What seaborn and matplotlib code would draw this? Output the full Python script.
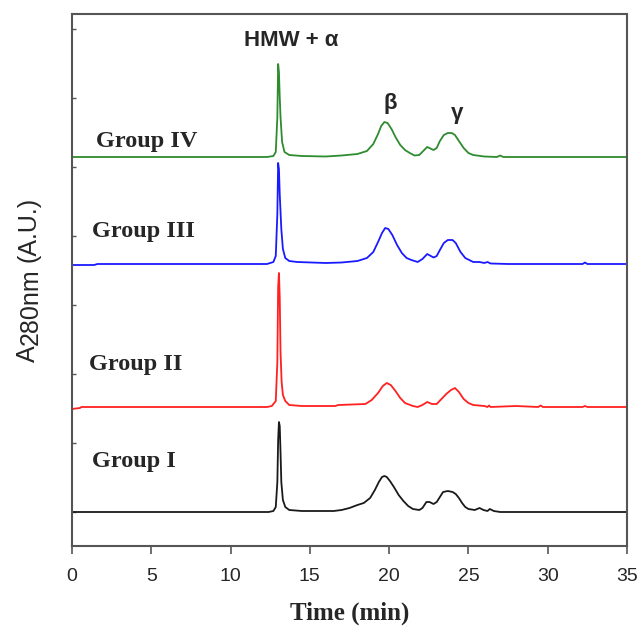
import matplotlib.pyplot as plt
import seaborn as sns
import pandas as pd

# Chromatogram traces (time in min, absorbance in a.u. above each baseline)
time_I = [0, 12.4, 12.7, 12.85, 12.95, 13.0, 13.05, 13.1, 13.15, 13.2, 13.3, 13.45, 13.7, 14.5,
          16.5, 17.0, 17.5, 18.0, 18.4, 18.8, 19.1, 19.35, 19.55, 19.7, 19.85, 20.05, 20.3,
          20.6, 20.9, 21.2, 21.5, 21.9, 22.1, 22.35, 22.55, 22.8, 23.0, 23.2, 23.4, 23.7,
          24.0, 24.2, 24.4, 24.6, 24.8, 25.0, 25.4, 25.7, 25.95, 26.2, 26.35, 26.6, 27.0, 35]
sig_I = [0, 0, 1, 5, 30, 72, 90, 86, 60, 30, 12, 5, 2, 1,
         1, 2, 4, 7, 9, 14, 22, 30, 35, 36, 35, 31, 25,
         17, 11, 6, 3, 2, 4, 10, 10, 8, 10, 15, 20, 21,
         20, 18, 14, 9, 5, 3, 2, 4, 2, 1, 3, 1, 0, 0]

time_II = [0, 0.5, 0.6, 12.3, 12.6, 12.85, 12.95, 13.0, 13.05, 13.1, 13.15, 13.22, 13.3, 13.45,
           13.7, 14.5, 16.6, 16.8, 18.5, 18.9, 19.3, 19.6, 19.85, 20.1, 20.4, 20.7, 21.0,
           21.5, 21.8, 22.1, 22.4, 22.7, 23.0, 23.3, 23.6, 23.9, 24.15, 24.4, 24.7, 25.0,
           25.3, 26.0, 26.2, 26.3, 26.4, 28.0, 29.4, 29.55, 29.7, 32.2, 32.35, 32.5, 35]
sig_II = [-2, -1, 0, 0, 1, 6, 45, 120, 134, 110, 55, 25, 12, 6,
          2, 1, 1, 2, 3, 7, 14, 21, 24, 22, 16, 9, 4,
          1, 0, 2, 5, 3, 3, 8, 13, 17, 19, 15, 8, 4,
          2, 1, 0, 1.5, 0, 1, 0, 1.5, 0, 0, 1, 0, 0]

time_III = [0, 1.4, 1.6, 12.3, 12.7, 12.85, 12.95, 13.0, 13.05, 13.1, 13.2, 13.3, 13.45, 13.7,
            14.2, 16.0, 17.0, 18.0, 18.6, 19.0, 19.3, 19.55, 19.75, 19.95, 20.2, 20.5, 20.8,
            21.1, 21.4, 21.8, 22.1, 22.4, 22.8, 23.0, 23.2, 23.45, 23.7, 24.0, 24.2, 24.5,
            24.8, 25.3, 25.7, 26.0, 26.2, 26.4, 27.5, 32.2, 32.35, 32.5, 35]
sig_III = [-1, -1, 0, 0, 2, 8, 50, 101, 95, 70, 35, 15, 6, 3,
           2, 1, 1.5, 3, 6, 12, 22, 31, 36, 35, 29, 19, 11,
           6, 4, 2, 5, 10, 6.5, 8, 14, 21, 24, 24, 21, 12,
           6, 2, 2, 1, 2, 0.5, 0, 0, 1.5, 0, 0]

time_IV = [0, 12.3, 12.7, 12.85, 12.95, 13.0, 13.05, 13.1, 13.15, 13.25, 13.4, 13.7, 14.5,
           16.0, 17.0, 18.0, 18.6, 19.0, 19.3, 19.5, 19.7, 19.9, 20.15, 20.4, 20.7, 21.0,
           21.3, 21.6, 21.9, 22.15, 22.4, 22.8, 23.0, 23.2, 23.45, 23.7, 23.95, 24.15, 24.4,
           24.7, 25.0, 25.3, 26.0, 26.8, 27.0, 27.2, 35]
sig_IV = [0, 0, 1, 5, 40, 93, 85, 60, 40, 15, 5, 2, 1,
          0.5, 1.5, 3, 6, 13, 23, 31, 35, 34, 28, 20, 12, 7,
          4, 1.5, 2, 6, 10, 7, 9, 16, 22, 24, 24, 22, 16,
          9, 4, 2, 0.5, 0, 1.5, 0, 0]

groups = ["Group I", "Group II", "Group III", "Group IV"]
offsets = [0, 105, 248, 355]
colors = ["#1a1a1a", "#ff2020", "#1a1aff", "#2e8b2e"]

frames = []
for g, t, s, off in zip(groups, [time_I, time_II, time_III, time_IV],
                        [sig_I, sig_II, sig_III, sig_IV], offsets):
    frames.append(pd.DataFrame({"time": t, "signal": [v + off for v in s], "group": g}))
df = pd.concat(frames, ignore_index=True)

sns.set_style("ticks")
plt.rcParams["font.family"] = ["Liberation Sans", "DejaVu Sans"]

fig = plt.figure(figsize=(6.39, 6.28), dpi=100)
ax = fig.add_axes([72 / 639, 82 / 628, 555 / 639, 532 / 628])

sns.lineplot(data=df, x="time", y="signal", hue="group", palette=colors,
             estimator=None, sort=False, legend=False, linewidth=1.3, ax=ax)

ax.set_xlim(0, 35)
ax.set_ylim(-34, 498)
ax.set_xticks(range(0, 36, 5))
ax.set_yticks(range(0, 498, 69))
ax.set_yticklabels([])
ax.set_ylabel("")
ax.set_xlabel("Time (min)", fontsize=18, fontweight="bold", family="Liberation Serif", labelpad=12)
ax.tick_params(axis="x", direction="out", length=6, width=1.2, color="#555555", labelsize=14, pad=10)
ax.tick_params(axis="y", direction="in", length=3, width=1, color="#555555")
for sp in ax.spines.values():
    sp.set_color("#555555")
    sp.set_linewidth(1.5)

# group names
label_pos = [(1.26, 45), (1.07, 142), (1.26, 275), (1.5, 365)]
for g, (x, y) in zip(groups, label_pos):
    ax.text(x, y, g, fontsize=17.5, fontweight="bold", family="Liberation Serif", va="baseline")

# peak names
ax.text(13.8, 471, "HMW + α", fontsize=16, fontweight="bold", ha="center", va="center")
ax.text(20.06, 409, "β", fontsize=16, fontweight="bold", ha="center", va="center")
ax.text(24.3, 399, "γ", fontsize=16, fontweight="bold", ha="center", va="center")

# y label: A, subscript-like 280nm at same size, then (A.U.)
fig.text(35 / 639, (628 - 362) / 628, "A", fontsize=18, rotation=90,
         rotation_mode="anchor", ha="left", va="baseline")
fig.text(38 / 639, (628 - 345) / 628, "280nm", fontsize=18, rotation=90,
         rotation_mode="anchor", ha="left", va="baseline")
fig.text(35 / 639, (628 - 262) / 628, "(A.U.)", fontsize=18, rotation=90,
         rotation_mode="anchor", ha="left", va="baseline")

fig.savefig("out.png", dpi=100)
